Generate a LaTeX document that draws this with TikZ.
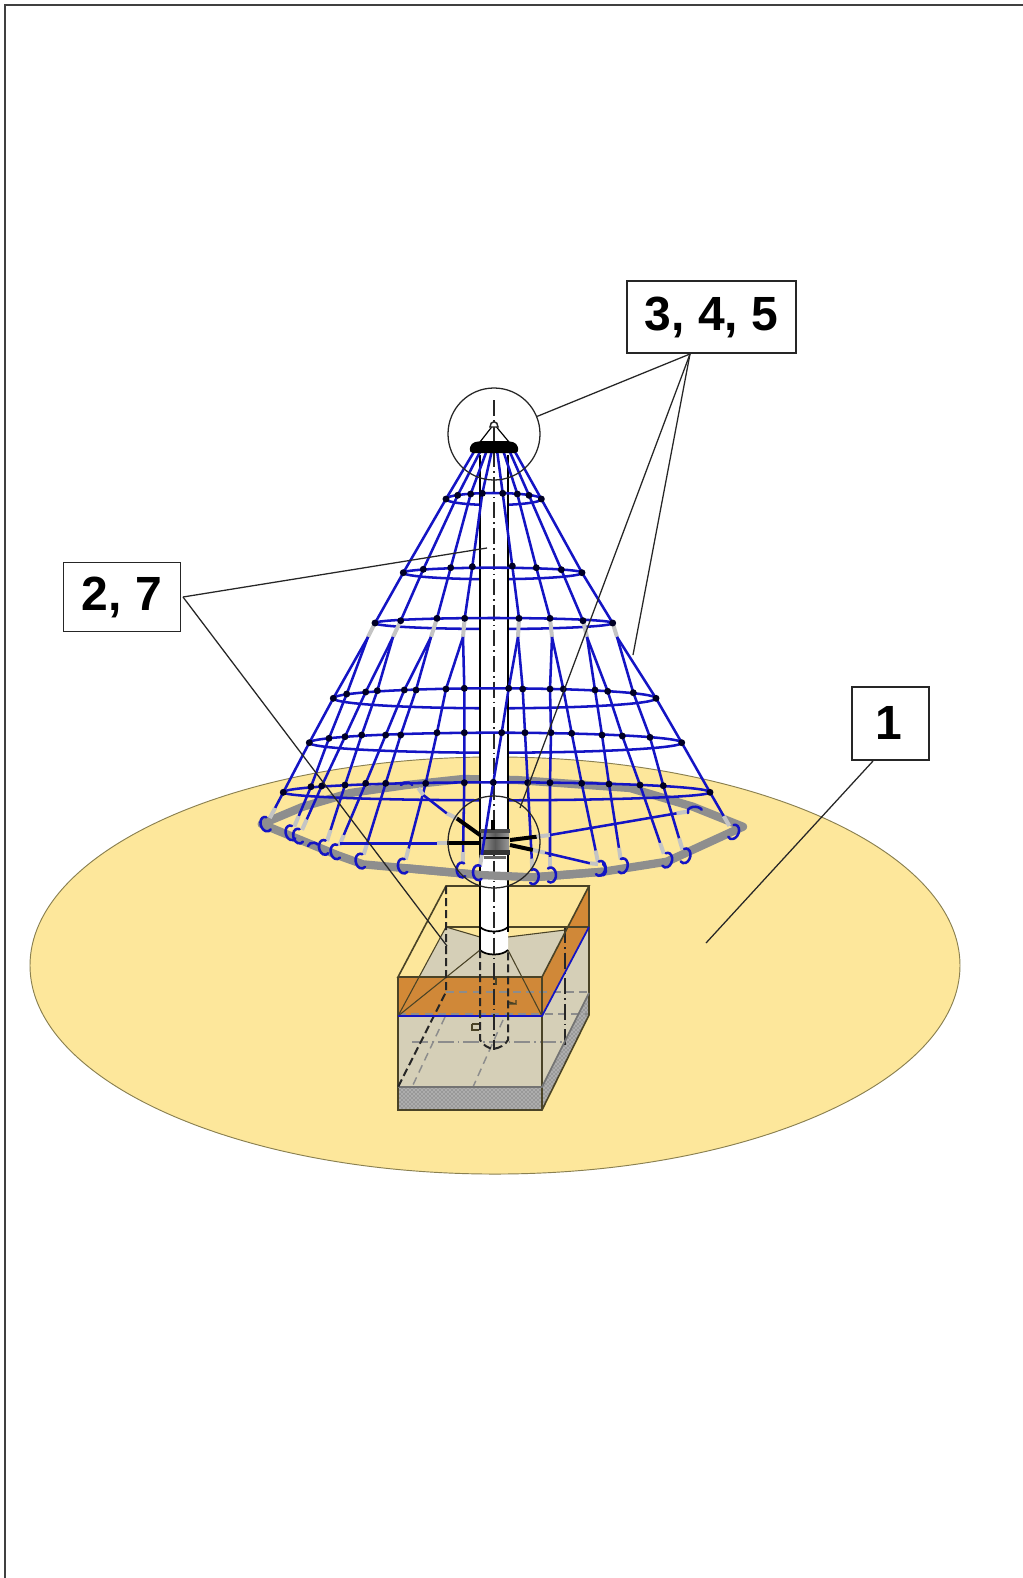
\documentclass[tikz,border=0pt]{standalone}
\usepackage{fontspec}
\setmainfont{Liberation Sans}
\usetikzlibrary{calc,patterns}
\definecolor{sand}{HTML}{FDE79B}
\definecolor{sandedge}{HTML}{8A8050}
\definecolor{beige}{HTML}{D5CFB7}
\definecolor{clay}{HTML}{D0822E}
\definecolor{rope}{HTML}{1414C4}
\definecolor{olive}{HTML}{4A4326}
\definecolor{ringgray}{HTML}{8E8E8E}
\definecolor{linkgray}{HTML}{C4C4C4}
\tikzset{
  ropeline/.style={draw=rope,line width=1.9pt},
  knot/.style={fill=black!85!blue},
  hooked/.style={draw=rope,line width=1.9pt,line cap=round},
  linkline/.style={draw=linkgray,line width=3pt},
  steelarm/.style={draw=black,line width=3pt},
  leader/.style={draw=black!85,line width=0.95pt},
  boxedge/.style={draw=olive,line width=1.2pt},
  labelbox/.style={draw=black!85,fill=white,line width=1.1pt,font=\bfseries\fontsize{36}{40}\selectfont,inner sep=0pt,minimum height=54pt},
  centerline/.style={draw=black!85,line width=1pt,dash pattern=on 12pt off 3pt on 1.2pt off 3pt},
  greydash/.style={draw=black!45,line width=1.1pt,dash pattern=on 6pt off 4pt},
  blackdash/.style={draw=black!85,line width=1.5pt,dash pattern=on 6pt off 3pt}
}
\begin{document}
\begin{tikzpicture}[x=0.75pt,y=-0.75pt]
\useasboundingbox (0,0) rectangle (1023,1578);
\fill[white] (0,0) rectangle (1023,1578);
\draw[black!75,line width=1.2pt] (5,1578) -- (5,5) -- (1023,5);
% ground
\draw[fill=sand,draw=sandedge,line width=0.7pt] (495,965.5) ellipse [x radius=348.75pt,y radius=156.4pt];
% foundation
\coordinate (A) at (398,977); \coordinate (B) at (542,977); \coordinate (C) at (589,886); \coordinate (D) at (446,886);
\coordinate (E) at (398,1016); \coordinate (F) at (542,1016); \coordinate (G) at (589,927); \coordinate (H) at (446,927);
\coordinate (I) at (398,1087); \coordinate (J) at (542,1087); \coordinate (K) at (589,993); \coordinate (L) at (398,1110);
\coordinate (M) at (542,1110); \coordinate (N) at (589,1015);
\fill[beige] (E) -- (F) -- (M) -- (L) -- cycle;
\fill[beige] (F) -- (G) -- (N) -- (M) -- cycle;
\fill[beige] (H) -- (480,937) -- (508,937) -- (G) -- (F) -- (E) -- cycle;
\fill[clay,opacity=.92] (A) -- (B) -- (F) -- (E) -- cycle;
\fill[clay,opacity=.92] (B) -- (C) -- (G) -- (F) -- cycle;
\fill[black!32] (I) -- (J) -- (M) -- (L) -- cycle;
\fill[black!32] (J) -- (K) -- (N) -- (M) -- cycle;
\fill[pattern=crosshatch dots,pattern color=black!65] (I) -- (J) -- (M) -- (L) -- cycle;
\fill[pattern=crosshatch dots,pattern color=black!65] (J) -- (K) -- (N) -- (M) -- cycle;
\draw[greydash] (446,992) -- (589,992);
\draw[greydash] (445,1017) -- (412,1087);
\draw[greydash] (503,1020) -- (473,1087);
\draw[greydash] (398,1014) -- (589,1014);
\draw[draw=black!45,line width=1.1pt,dash pattern=on 12pt off 3pt on 1.2pt off 3pt] (412,1042) -- (565,1042);
\draw[centerline] (565,927) -- (565,1048);
\draw[boxedge] (A) -- (B) -- (C) -- (D) -- cycle;
\draw[boxedge] (A) -- (L) -- (M) -- (N) -- (C);
\draw[boxedge] (B) -- (M);
\draw[boxedge,draw=black!55] (I) -- (J) -- (K);
\draw[boxedge] (H) -- (G);
\draw[boxedge,line width=0.8pt] (E) -- (H) -- (480,937);
\draw[boxedge,line width=0.8pt] (508,937) -- (565,930);
\draw[boxedge,line width=0.8pt] (480,950) -- (E);
\draw[boxedge,line width=0.8pt] (508,950) -- (F);
\draw[blackdash] (D) -- (446,992) -- (398,1087);
\draw[rope,line width=1.3pt] (E) -- (F) -- (G);
\draw[olive,line width=1pt] (493,979) -- (496,979) -- (496,984) -- (493,984);
\draw[olive,line width=1pt] (509,1002) -- (516,1004) -- (516,1000) (509,1004) -- (516,1004);
\draw[olive,line width=1pt] (472,1024) -- (472,1030) -- (479,1030) (472,1024) -- (479,1024);
% gravel ring, rear part
\draw[ringgray,line width=6.2pt,line join=round] (533.3,877.3) -- (603,871.7) -- (666.7,861.7) -- (743,826.7) -- (693,806.7) -- (630,788) -- (516.7,780) -- (463,779) -- (406.7,785) -- (350,793) -- (303,806.7) -- (261.7,824) -- (337,855) -- (363,864.3) -- (406.7,868.3) -- (480,875);
% front arcs of the net rings
\foreach \cx/\cy/\rx/\ry in {493.7/499/47.7/6,492.7/572.7/89.4/6.5,493.8/623/119/6,494.7/698.3/161.3/10,495.5/742.7/186.2/10,496.7/792.3/213.3/8}
  \draw[ropeline] ({\cx-\rx},\cy) arc[start angle=180,end angle=360,x radius={\rx*0.75pt},y radius={\ry*0.75pt}];
% pole
\fill[white] (480,455) -- (508,455) -- (508,950) .. controls (503,955) and (485,955) .. (480,950) -- cycle;
\draw[black,line width=1.9pt] (480,455) -- (480,950);
\draw[black,line width=1.9pt] (508,455) -- (508,932);
\draw[black,line width=1.3pt] (480,927) .. controls (486,933) and (502,933) .. (508,927);
\draw[black,line width=1.3pt] (480,950) .. controls (486,956) and (502,956) .. (508,950);
\draw[blackdash] (480,950) -- (480,1040) .. controls (483,1045) and (488,1048) .. (493,1049) .. controls (500,1048) and (505,1045) .. (508,1040) -- (508,950);
\draw[centerline] (494,400) -- (494,1050);
% gravel ring, front part
\draw[ringgray,line width=6.2pt,line join=round] (406.7,868.3) -- (480,875) -- (533.3,877.3) -- (603,871.7);
% rear arcs
\foreach \cx/\cy/\rx/\ry in {493.7/499/47.7/6,492.7/572.7/89.4/5,493.8/623/119/5,494.7/698.3/161.3/10,495.5/742.7/186.2/10,496.7/792.3/213.3/10}
  \draw[ropeline] ({\cx-\rx},\cy) arc[start angle=180,end angle=0,x radius={\rx*0.75pt},y radius={\ry*0.75pt}];
% hub
\shade[left color=black!40,right color=black!40,middle color=black!65] (481,832) rectangle (509,852);
\fill[black!70] (480,829) rectangle (510,833);
\fill[black!80] (480,850) rectangle (510,855);
\draw[black,line width=1pt] (481,838) -- (509,838);
\fill[black!60] (484,856) rectangle (506,859);
\draw[black,line width=2.4pt] (493,820) -- (493,830);
% upper net: eight ropes with their links
\foreach \tx/\ax/\ay/\bx/\by/\cx/\cy/\lx/\ly in {
  475/446/499/403.3/572.7/375/623/368/637,
  481/457.7/495.3/423.3/569.3/400.7/620.7/393/637,
  487/470.7/494/450.7/567.7/437/618.3/431/637,
  492/482.3/493.3/472.3/566.7/464.7/618.3/463/637,
  497/502.7/493.3/512.3/566/519/618.3/518/637,
  503/517.3/494/536.3/567.7/550/618.3/552/637,
  509/529/495.3/561.3/569.7/583/620.7/587/637,
  514/541.3/499/582/572.7/612.7/623/617/637}
{
  \draw[ropeline] (\tx,450) -- (\ax,\ay) -- (\bx,\by) -- (\cx,\cy);
  \draw[linkline] (\cx,\cy) -- (\lx,\ly);
  \fill[knot] (\ax,\ay) circle[radius=2.6pt];
  \fill[knot] (\bx,\by) circle[radius=2.6pt];
  \fill[knot] (\cx,\cy) circle[radius=2.6pt];
}
% lower net: sixteen ropes
\foreach \lx/\ly/\ax/\ay/\bx/\by/\cx/\cy/\hx/\hy/\hr in {
  368/637/333.3/698.3/309.3/742.7/283.3/792.3/266.7/824/20,
  368/637/346.7/694/329/738.3/311/786.7/291.7/832.7/15,
  393/637/365.7/692/345/736.7/321.7/786/299.3/836/15,
  393/637/377.3/690.7/361.7/735/345/785/325/847.3/12,
  431/637/404.3/690/385.7/735/365.7/783.3/336.7/851.7/12,
  431/637/416/690/400.7/735/385.7/783.3/361.7/861/12,
  463/637/446/689/437/732.7/425.7/783.3/404/866/12,
  463/637/464.3/688.3/464.3/732.7/464.3/782.7/462.7/870/5,
  518/637/508.7/688.3/501.7/732.7/493.3/782.3/479/872.7/5}
{
  \draw[ropeline] (\lx,\ly) -- (\ax,\ay) -- (\bx,\by) -- (\cx,\cy) -- ($(\hx,\hy)!13.5pt!(\cx,\cy)$);
  \draw[linkline] ($(\hx,\hy)!13.5pt!(\cx,\cy)$) -- ($(\hx,\hy)!5pt!(\cx,\cy)$);
  \draw[hooked,rotate around={\hr:(\hx,\hy)}] ({\hx+2},{\hy-6.5}) arc[start angle=60,end angle=300,x radius=4pt,y radius=5.6pt];
  \fill[knot] (\ax,\ay) circle[radius=2.6pt];
  \fill[knot] (\bx,\by) circle[radius=2.6pt];
  \fill[knot] (\cx,\cy) circle[radius=2.6pt];
}
\foreach \lx/\ly/\ax/\ay/\bx/\by/\cx/\cy/\hx/\hy/\hr in {
  518/637/522.7/689/525/732.7/527.7/782.7/532.7/876.7/-5,
  552/637/550/689/551/732.7/550/782.7/550/875/0,
  552/637/563.3/689/571.7/733.3/581.7/783.3/599.3/868.3/-12,
  587/637/595/690/602/735/609/784/621.7/865.7/-10,
  587/637/607.7/691.3/622.3/736/640/785/666/860/-15,
  617/637/633.3/692.7/650/737.3/663.3/785.7/684.3/855.7/-15,
  617/637/656/698.3/681.7/742.7/710/792.3/732.7/831.7/-25}
{
  \draw[ropeline] (\lx,\ly) -- (\ax,\ay) -- (\bx,\by) -- (\cx,\cy) -- ($(\hx,\hy)!13.5pt!(\cx,\cy)$);
  \draw[linkline] ($(\hx,\hy)!13.5pt!(\cx,\cy)$) -- ($(\hx,\hy)!5pt!(\cx,\cy)$);
  \draw[hooked,rotate around={\hr:(\hx,\hy)}] ({\hx-2},{\hy-6.5}) arc[start angle=120,end angle=-120,x radius=4pt,y radius=5.6pt];
  \fill[knot] (\ax,\ay) circle[radius=2.6pt];
  \fill[knot] (\bx,\by) circle[radius=2.6pt];
  \fill[knot] (\cx,\cy) circle[radius=2.6pt];
}
% guys from the hub to the gravel ring
\draw[steelarm] (480,835) -- (456.7,818.3);
\draw[linkline] (456.7,818.3) -- (446.7,813.3);
\draw[ropeline] (446.7,813.3) -- (423.3,795);
\draw[linkline] (423.3,795) -- (418.3,788);
\draw[hooked] (401,785) arc[start angle=160,end angle=20,x radius=4.5pt,y radius=3pt];
\draw[steelarm] (480,843.3) -- (446.7,843.3);
\draw[linkline] (446.7,843.3) -- (436.7,843.3);
\draw[ropeline] (436.7,843.3) -- (340,843.3);
\draw[hooked] (308,846) arc[start angle=170,end angle=30,x radius=4pt,y radius=3pt];
\draw[steelarm] (510,840) -- (536.7,836.7);
\draw[linkline] (536.7,836.7) -- (550,835);
\draw[ropeline] (550,835) -- (676.7,813.3);
\draw[linkline] (676.7,813.3) -- (686.7,811.7);
\draw[hooked] (688,813) arc[start angle=200,end angle=20,x radius=5.5pt,y radius=3.5pt];
\draw[steelarm] (510,845) -- (533,850);
\draw[linkline] (533,850) -- (545,852.7);
\draw[ropeline] (545,852.7) -- (590,863.3);
\draw[linkline] (590,863.3) -- (598,864);
\draw[hooked] (603,864) arc[start angle=70,end angle=-110,x radius=3.5pt,y radius=4.5pt];
% top fitting
\draw[black,line width=0.9pt] (480,442) -- (494,424) -- (509,442);
\draw[black!85,fill=white,line width=1.1pt] (490,427) arc[start angle=180,end angle=0,x radius=3pt,y radius=4pt] -- cycle;
\fill[black,rounded corners=3pt] (471,443) -- (480,441) -- (508,441) -- (517,443) -- (519,453) -- (469,453) -- cycle;
% detail circles
\node[circle,draw=black!85,line width=0.95pt,minimum size=69pt,inner sep=0pt] (detailtop) at (494,434) {};
\node[circle,draw=black!85,line width=0.95pt,minimum size=69pt,inner sep=0pt] (detailhub) at (494,842) {};
% labels
\node[labelbox,minimum width=126.5pt] (lab345) at (711.5,317) {3, 4, 5};
\node[labelbox,minimum width=88pt,minimum height=52pt] (lab27) at (122,597) {\raisebox{-0.7pt}{2, 7}};
\node[labelbox,minimum width=57.5pt,minimum height=54.5pt] (labone) at (890.5,723.5) {\raisebox{1.5pt}{\hspace*{-3pt}1}};
% leaders
\coordinate (o345) at (690,354);
\coordinate (o27) at (183,597);
\coordinate (oone) at (873,761);
\coordinate (t27a) at (487,548);
\coordinate (t27b) at (447,946);
\coordinate (t1) at (706,943);
\coordinate (t345b) at (520,808);
\coordinate (t345c) at (633,655);
\draw[leader] (o345) -- (detailtop);
\draw[leader] (o345) -- (t345b);
\draw[leader] (o345) -- (t345c);
\draw[leader] (o27) -- (t27a);
\draw[leader] (o27) -- (t27b);
\draw[leader] (oone) -- (t1);
\end{tikzpicture}
\end{document}
